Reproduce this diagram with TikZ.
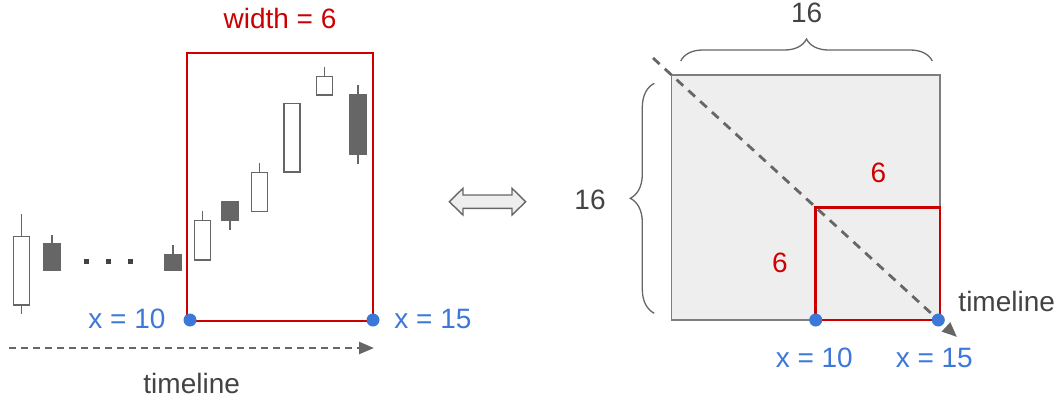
\documentclass[tikz,border=0pt]{standalone}
\usepackage{fontspec}
\setmainfont{Liberation Sans}
\usepackage{tikz}
\usetikzlibrary{arrows.meta, decorations.pathreplacing}

\definecolor{boxred}{HTML}{CC0000}
\definecolor{dotblue}{HTML}{3C78D8}
\definecolor{txtgray}{HTML}{434343}
\definecolor{candle}{HTML}{666666}
\definecolor{area}{HTML}{EEEEEE}

\tikzset{
    lbl/.style={inner sep=0pt, font=\fontsize{28}{31}\selectfont},
    dot/.style={circle, fill=dotblue, inner sep=0pt, minimum size=13pt},
    wick/.style={candle, line width=1.5pt},
    bull/.style={draw=candle, fill=white, line width=1.5pt},
    bear/.style={draw=candle, fill=candle, line width=1.5pt},
    redbox/.style={draw=boxred, line width=2.7pt},
    timeline/.style={candle, line width=2.5pt, dash pattern=on 7pt off 5pt, -{Triangle[length=15pt, width=12pt]}},
    curly/.style={decorate, decoration={brace, amplitude=22pt}, candle, line width=1.3pt}
}

\begin{document}
\begin{tikzpicture}[x=1pt, y=-1pt]
    \useasboundingbox (0, 0) rectangle (1064, 400);

    % candles
    \draw[wick] (21.5, 214) -- (21.5, 314);
    \draw[bull] (13.5, 236.7) rectangle (29.5, 305);
    \draw[wick] (52, 235) -- (52, 243);
    \draw[bear] (44, 243.3) rectangle (60, 270.7);
    \fill[txtgray] (83.5, 258.8) rectangle (88.5, 263.8);
    \fill[txtgray] (105.5, 258.8) rectangle (110.5, 263.8);
    \fill[txtgray] (128.2, 258.8) rectangle (133.2, 263.8);
    \draw[wick] (173, 245) -- (173, 255);
    \draw[bear] (165, 255) rectangle (181, 270);
    \draw[wick] (202.5, 210.7) -- (202.5, 220.7);
    \draw[bull] (194.5, 220.7) rectangle (210.5, 260);
    \draw[wick] (230, 220.7) -- (230, 230);
    \draw[bear] (222, 202) rectangle (238, 220.7);
    \draw[wick] (259.7, 163.3) -- (259.7, 172.7);
    \draw[bull] (251.7, 172.7) rectangle (267.7, 211.3);
    \draw[bull] (284, 103.3) rectangle (300, 172);
    \draw[wick] (324.3, 66.7) -- (324.3, 76.3);
    \draw[bull] (316.3, 76.3) rectangle (332.3, 95);
    \draw[wick] (358, 85.3) -- (358, 164.3);
    \draw[bear] (350, 95) rectangle (366, 154.7);

    % left window
    \node[lbl, boxred] at (280, 18) (width) {width = 6};
    \coordinate (wtop) at (187, 53);
    \coordinate (wbot) at (373, 321);
    \draw[redbox] (wtop) rectangle (wbot);
    \node[dot] at (190, 320) (l10) {};
    \node[dot] at (373, 320) (l15) {};
    \node[lbl, dotblue] at (127, 319) (lx10) {x = 10};
    \node[lbl, dotblue] at (433, 319) (lx15) {x = 15};
    \coordinate (lstart) at (9, 348);
    \coordinate (lend) at (374, 348);
    \draw[timeline] (lstart) -- (lend);
    \node[lbl, txtgray] at (191.7, 383) (ltime) {timeline};

    % double arrow
    \draw[draw=candle, fill=area, line width=1.4pt] (449.3, 201.7) -- (463, 188.3) -- (463, 195) -- (512, 195)
        -- (512, 188.3) -- (525.7, 201.7) -- (512, 215) -- (512, 208.3) -- (463, 208.3) -- (463, 215) -- cycle;

    % right matrix
    \coordinate (mtl) at (671.7, 75);
    \coordinate (mbr) at (940, 320);
    \draw[fill=area, draw=candle!85, line width=1.3pt] (mtl) rectangle (mbr);
    \coordinate (stl) at (815.7, 207.3);
    \draw[redbox] (stl) rectangle (mbr);
    \coordinate (dstart) at (653, 58);
    \coordinate (dend) at (957, 337);
    \draw[timeline, line width=2.8pt, dash pattern=on 9pt off 7pt] (dstart) -- (dend);
    \node[dot] at (815.7, 320) (r10) {};
    \node[dot] at (938.3, 320) (r15) {};
    \node[lbl, dotblue] at (814.3, 358) (rx10) {x = 10};
    \node[lbl, dotblue] at (934.3, 358) (rx15) {x = 15};
    \node[lbl, txtgray] at (1006.7, 301.7) (rtime) {timeline};
    \node[lbl, boxred] at (878.3, 173) (six1) {6};
    \node[lbl, boxred] at (780, 263) (six2) {6};

    \draw[curly] (680.7, 61) -- (932.3, 61);
    \draw[curly, decoration={amplitude=24pt}] (654.3, 313.3) -- (654.3, 83.3);
    \node[lbl, txtgray] at (806.7, 13.3) (top16) {16};
    \node[lbl, txtgray] at (590, 200) (left16) {16};
\end{tikzpicture}
\end{document}
